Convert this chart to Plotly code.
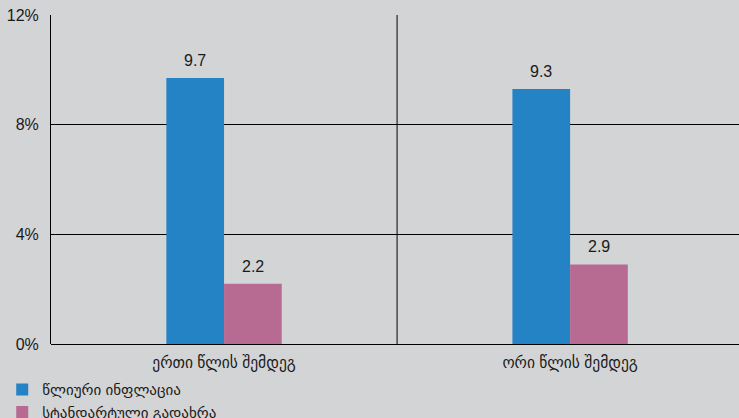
import plotly.graph_objects as go

categories = ["ერთი წლის შემდეგ", "ორი წლის შემდეგ"]
series_names = ["წლიური ინფლაცია", "სტანდარტული გადახრა"]
inflation = [9.7, 9.3]
std_dev = [2.2, 2.9]
y_ticks = [0, 4, 8, 12]
y_tick_labels = ["0%", "4%", "8%", "12%"]

colors = ["#2483c5", "#b76b93"]
bg = "#d3d4d6"
font_fam = "Liberation Sans, Arial, DejaVu Sans, sans-serif"

xpos = list(range(len(categories)))
bw = 0.1667

fig = go.Figure()
for k, (name, vals) in enumerate(zip(series_names, [inflation, std_dev])):
    off = (k - 0.5) * bw
    fig.add_trace(go.Bar(
        x=[p + off for p in xpos], y=vals, name=name, width=bw,
        marker=dict(color=colors[k], line=dict(width=0)),
        legendgroup=f"g{k}",
    ))
    for p, v in zip(xpos, vals):
        fig.add_annotation(x=p + off, y=v, text=f"{v}", showarrow=False,
                           yanchor="bottom", yshift=7,
                           font=dict(size=16, color="#1a1a1a", family=font_fam))

# category separator
for i in range(1, len(categories)):
    fig.add_shape(type="line", x0=i - 0.5, x1=i - 0.5, y0=0, y1=12,
                  xref="x", yref="y", line=dict(color="black", width=1))

fig.update_layout(
    width=739, height=418,
    margin=dict(l=51, r=0, t=15, b=74, autoexpand=False),
    paper_bgcolor=bg, plot_bgcolor=bg,
    barmode="overlay",
    font=dict(family=font_fam, size=15, color="#1a1a1a"),
    showlegend=True,
    legend=dict(orientation="v", xref="container", yref="container",
                x=0.003, y=0.107, xanchor="left", yanchor="top",
                bgcolor="rgba(0,0,0,0)", font=dict(size=15),
                tracegroupgap=0, itemwidth=30),
    xaxis=dict(range=[-0.5, 1.488], tickmode="array", tickvals=xpos,
               ticktext=categories, showgrid=False, zeroline=False,
               showline=False, ticks="", tickfont=dict(size=15.5),
               ticklabelstandoff=7),
    yaxis=dict(range=[0, 12], tickmode="array", tickvals=y_ticks,
               ticktext=y_tick_labels, showgrid=True, gridcolor="black",
               gridwidth=1, zeroline=True, zerolinecolor="black",
               zerolinewidth=1, showline=True, linecolor="black",
               linewidth=1, ticks="", tickfont=dict(size=16),
               ticklabelstandoff=8),
)

fig.write_html("out.html")
